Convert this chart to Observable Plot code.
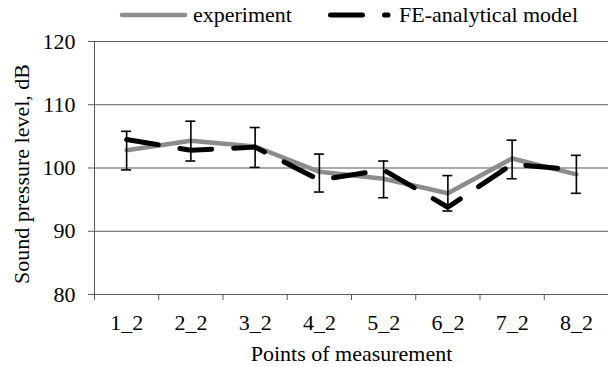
<!DOCTYPE html>
<html><head><meta charset="utf-8">
<script src="https://cdn.jsdelivr.net/npm/d3@7"></script>
<script src="https://cdn.jsdelivr.net/npm/@observablehq/plot@0.6"></script>
<style>
body{margin:0;background:#fff;font-family:"Liberation Serif","Times New Roman",serif;}
#legend{display:block;}
</style></head><body>
<svg id="legend" width="608" height="28"></svg>
<div id="chart"></div>
<script>
const categories = ["1_2","2_2","3_2","4_2","5_2","6_2","7_2","8_2"];
const experiment = [102.8,104.3,103.4,99.4,98.3,96.0,101.5,99.0];
const model      = [104.5,102.8,103.3,98.1,99.7,93.8,100.6,99.7];
const errLow     = [99.7,101.1,100.1,96.2,95.3,93.2,98.3,96.0];
const errHigh    = [105.8,107.4,106.4,102.2,101.1,98.8,104.4,102.0];
const yTicks = [80,90,100,110,120];
const seriesNames = ["experiment","FE-analytical model"];
const xTitle = "Points of measurement";
const yTitle = "Sound pressure level, dB";

const FONT = "'Liberation Serif', 'Times New Roman', serif";
const GRAY = "#8c8c8c";
const GRID = "#595959";
const DASH = "32,22";

// legend
const lg = d3.select("#legend");
lg.append("line").attr("x1",122).attr("x2",185).attr("y1",15).attr("y2",15)
  .attr("stroke",GRAY).attr("stroke-width",4.5).attr("stroke-linecap","round");
lg.append("text").attr("x",193).attr("y",21.5).attr("font-family",FONT).attr("font-size",22).text(seriesNames[0]);
lg.append("line").attr("x1",330.5).attr("x2",388).attr("y1",15).attr("y2",15)
  .attr("stroke","#000").attr("stroke-width",5).attr("stroke-linecap","round").attr("stroke-dasharray",DASH);
lg.append("text").attr("x",399).attr("y",21.5).attr("font-family",FONT).attr("font-size",22).text(seriesNames[1]);

const rows = categories.map((c,k)=>({i:k+1, c, exp:experiment[k], mod:model[k], lo:errLow[k], hi:errHigh[k]}));
const idx = rows.map(d=>d.i);
const xDomain = [0.5, categories.length + 0.5];
const boundaries = d3.range(0.5, categories.length + 0.5, 1);
const capHalf = 0.078;

const chart = Plot.plot({
  width: 608, height: 339,
  marginLeft: 94, marginRight: 0, marginTop: 13, marginBottom: 73,
  x: {domain: xDomain, axis: null},
  y: {domain: [yTicks[0], yTicks[yTicks.length-1]], axis: null},
  style: {fontFamily: FONT, fontSize: "22px", color: "#000", background: "#fff", overflow: "visible"},
  marks: [
    Plot.gridY(yTicks.slice(1), {stroke: GRID, strokeOpacity: 1, strokeWidth: 1}),
    Plot.ruleY([yTicks[0]], {stroke: GRID, strokeWidth: 1}),
    Plot.ruleX([xDomain[0]], {stroke: GRID, strokeWidth: 1}),
    Plot.axisY(yTicks, {tickSize: 6, tickPadding: 13, stroke: GRID, fill: "#000", fontSize: 22, label: null}),
    Plot.axisX(boundaries, {tickSize: 6, tickFormat: () => "", stroke: GRID, label: null}),
    Plot.axisX(idx, {tickSize: 0, tickPadding: 20, tickFormat: i => categories[i-1], fill: "#000", fontSize: 22, label: null}),
    Plot.line(rows, {x: "i", y: "exp", stroke: GRAY, strokeWidth: 4.5, strokeLinejoin: "round", strokeLinecap: "round"}),
    Plot.line(rows, {x: "i", y: "mod", stroke: "#000", strokeWidth: 5, strokeDasharray: DASH, strokeLinejoin: "round", strokeLinecap: "round"}),
    Plot.ruleX(rows, {x: "i", y1: "lo", y2: "hi", stroke: "#000", strokeWidth: 1.6}),
    Plot.ruleY(rows, {y: "hi", x1: d => d.i - capHalf, x2: d => d.i + capHalf, stroke: "#000", strokeWidth: 1.6}),
    Plot.ruleY(rows, {y: "lo", x1: d => d.i - capHalf, x2: d => d.i + capHalf, stroke: "#000", strokeWidth: 1.6}),
    Plot.text([xTitle], {frameAnchor: "bottom", dy: 59, lineAnchor: "middle", textAnchor: "middle", fontSize: 22, fill: "#000"}),
    Plot.text([yTitle], {frameAnchor: "left", rotate: -90, dx: -73, dy: 6, lineAnchor: "middle", textAnchor: "middle", fontSize: 22, fill: "#000"})
  ]
});
document.getElementById("chart").appendChild(chart);
</script>
</body></html>
